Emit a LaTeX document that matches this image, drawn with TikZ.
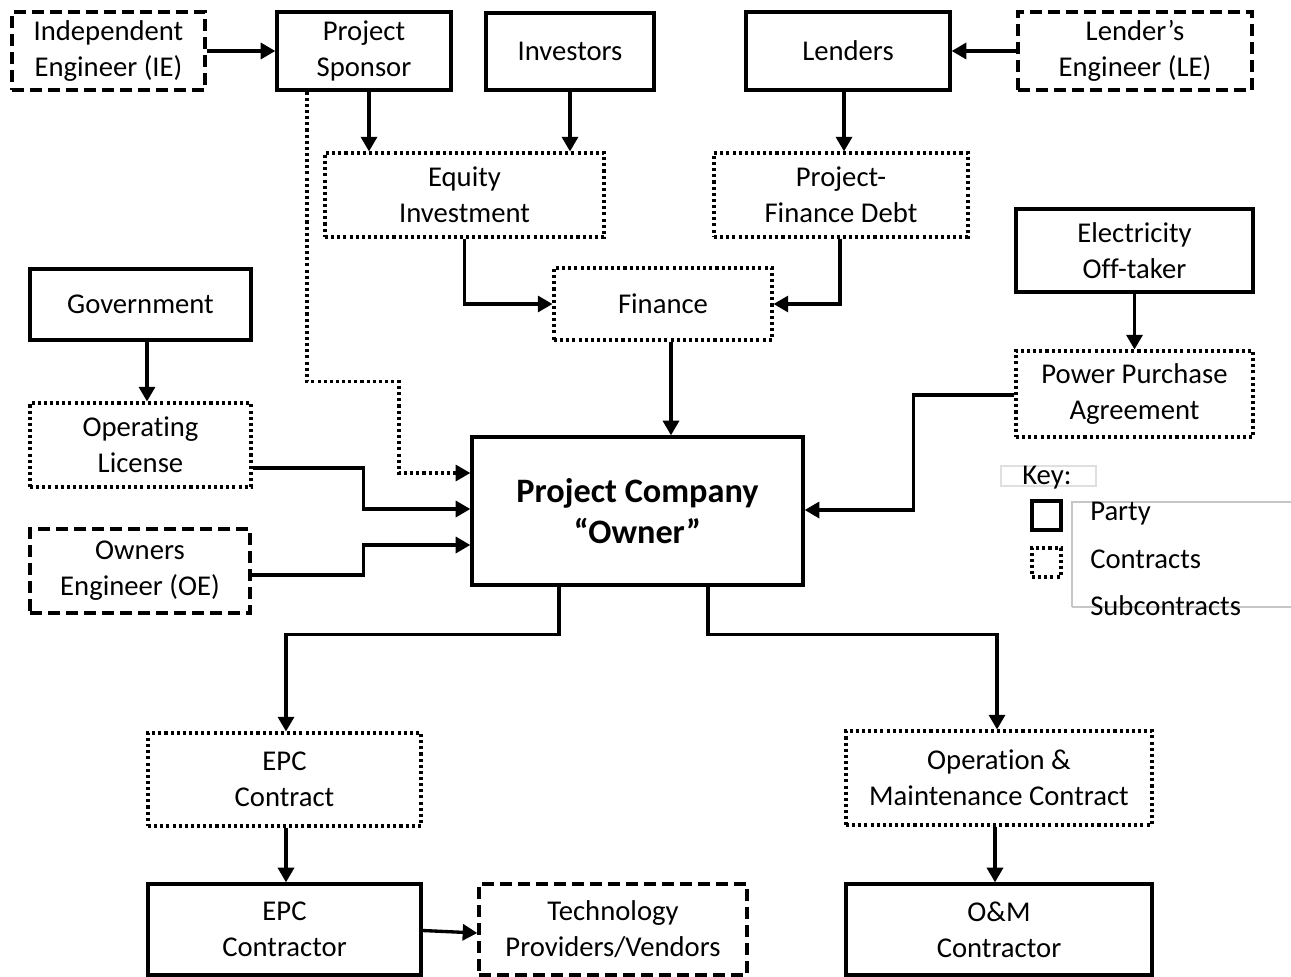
\documentclass[tikz,border=0pt]{standalone}
\usepackage{fontspec}
\setmainfont{Carlito}[Ligatures=NoCommon]
\usetikzlibrary{arrows.meta,calc}
\newcommand{\fsz}{\fontsize{21.5}{27}\selectfont}
\newcommand{\fbig}{\fontsize{25.7}{31}\selectfont\bfseries}
\tikzset{
  partybox/.style={draw, line width=2.5pt, align=center, inner sep=0pt, font=\fsz},
  contractbox/.style={partybox, line width=2.3pt, dash pattern=on 2.3pt off 2.3pt},
  subbox/.style={partybox, dash pattern=on 9pt off 4.5pt},
  wh/.style 2 args={minimum width=#1*0.75pt, minimum height=#2*0.75pt},
  arr/.style={line width=2.5pt, -{Triangle[length=11pt,width=12pt]}},
  darr/.style={arr, line width=2.3pt, dash pattern=on 2.3pt off 2.3pt},
  keytext/.style={font=\fsz, inner sep=0pt, anchor=base west}
}
\begin{document}
\begin{tikzpicture}[x=0.75pt,y=-0.75pt]
\useasboundingbox (0,0) rectangle (1291,977);
% top row
\node[subbox, wh={193}{78}] (ie) at (108.5,51) {Independent\\Engineer (IE)};
\node[partybox, wh={174}{78}] (sponsor) at (364,51) {Project\\Sponsor};
\node[partybox, wh={168}{77}] (investors) at (570,51.5) {Investors};
\node[partybox, wh={204}{78}] (lenders) at (848,51) {Lenders};
\node[subbox, wh={234}{78}] (le) at (1135,51) {Lender’s\\Engineer (LE)};
% contracts
\node[contractbox, wh={279}{84}] (equity) at (464.5,195) {Equity\\Investment};
\node[contractbox, wh={254}{84}] (pfd) at (841,195) {Project-\\Finance Debt};
\node[contractbox, wh={218}{72}] (finance) at (663,304) {Finance};
\node[partybox, wh={237}{83}] (offtaker) at (1134.5,250.5) {Electricity\\Off-taker};
\node[contractbox, wh={237}{86}] (ppa) at (1134.5,394) {Power Purchase\\Agreement};
\node[partybox, wh={221}{71}] (gov) at (140.5,304.5) {Government};
\node[contractbox, wh={221}{84}] (ol) at (140.5,445) {Operating\\License};
\node[subbox, wh={220}{84}] (oe) at (140,571) {Owners\\Engineer (OE)};
\node[partybox, wh={331}{148}, font=\fbig] (pc) at (637.5,511) {Project Company\\“Owner”};
% bottom
\node[contractbox, wh={273}{93}] (epcc) at (284.5,779.5) {EPC\\Contract};
\node[contractbox, wh={306}{94}] (omc) at (999,778) {Operation \&\\Maintenance Contract};
\node[partybox, wh={273}{91}] (epcr) at (284.5,929.5) {EPC\\Contractor};
\node[subbox, wh={268}{91}] (tech) at (613,929.5) {Technology\\Providers/Vendors};
\node[partybox, wh={306}{91}] (omr) at (999,929.5) {O\&M\\Contractor};
% connectors
\draw[arr] (ie.east) -- (sponsor.west);
\draw[arr] (le.west) -- (lenders.east);
\draw[arr] ($(sponsor.south)+(5,0)$) coordinate (a1) -- (a1 |- equity.north);
\draw[arr] (investors.south) -- (investors.south |- equity.north);
\draw[arr] ($(lenders.south)+(-4,0)$) coordinate (a2) -- (a2 |- pfd.north);
\draw[darr] ($(sponsor.south)+(-57,0)$) -- ++(0,290) -- ++(92,0) |- ($(pc.west)+(0,-38)$);
\draw[arr] (equity.south) |- (finance.west);
\draw[arr] ($(pfd.south)+(-1,0)$) |- (finance.east);
\draw[arr] ($(finance.south)+(8,0)$) coordinate (a3) -- (a3 |- pc.north);
\draw[arr] (offtaker.south) -- (offtaker.south |- ppa.north);
\draw[arr] ($(ppa.west)+(0,1)$) -- ++(-101,0) |- ($(pc.east)+(0,-1)$);
\draw[arr] ($(gov.south)+(6.5,0)$) coordinate (a4) -- (a4 |- ol.north);
\draw[arr] ($(ol.east)+(0,23)$) -- ++(111,0) |- ($(pc.west)+(0,-2)$);
\draw[arr] ($(oe.east)+(0,4)$) -- ++(112,0) |- ($(pc.west)+(0,34)$);
\draw[arr] ($(pc.south)+(-78.5,0)$) -- ++(0,48) -| ($(epcc.north)+(1.5,0)$);
\draw[arr] ($(pc.south)+(70.5,0)$) -- ++(0,48) -| ($(omc.north)+(-2,0)$);
\draw[arr] ($(epcc.south)+(1.5,0)$) coordinate (a5) -- (a5 |- epcr.north);
\draw[arr] ($(omc.south)+(-4,0)$) coordinate (a6) -- (a6 |- omr.north);
\draw[arr] ($(epcr.east)+(0,1)$) -- ($(tech.west)+(0,3.5)$);
% key
\draw[gray!25, line width=0.8pt] (1001,466) rectangle (1096,486);
\node[keytext] (keylabel) at (1022,484) {Key:};
\draw[gray!45, line width=0.8pt] (1072,607) -- (1072,502) -- (1295,502);
\draw[gray!45, line width=0.8pt] (1072,607) -- (1295,607);
\node[partybox, minimum size=29*0.75pt] (keyparty) at (1046.5,515.5) {};
\node[contractbox, minimum size=29*0.75pt] (keycontract) at (1046.5,562.5) {};
\node[keytext] (kparty) at (1090,520) {Party};
\node[keytext] (kcontract) at (1090,568) {Contracts};
\node[keytext] (ksub) at (1090,615) {Subcontracts};
\end{tikzpicture}
\end{document}
